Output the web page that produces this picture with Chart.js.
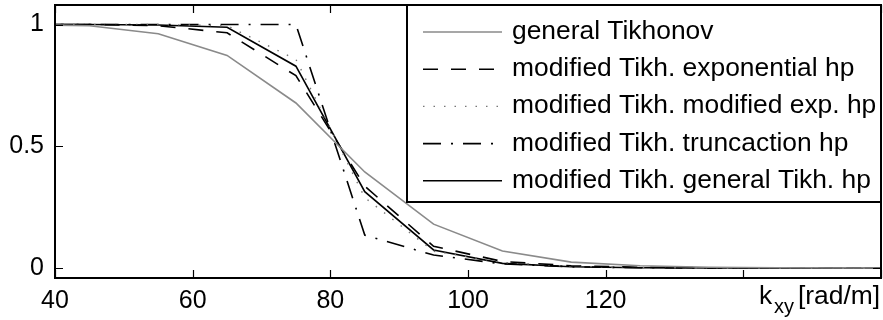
<!DOCTYPE html>
<html>
<head>
<meta charset="utf-8">
<script src="https://cdn.jsdelivr.net/npm/chart.js@4/dist/chart.umd.min.js"></script>
<style>
html,body{margin:0;padding:0;background:#fff;}
#wrap{width:883px;height:320px;position:relative;}
</style>
</head>
<body>
<div id="wrap"><canvas id="c" width="883" height="320"></canvas></div>
<script>
// ---- data ----
const kxy = [35, 45, 55, 65, 75, 85, 95, 105, 115, 125, 135, 145, 155, 165];
const generalTikhonov = [1.0, 0.995, 0.962, 0.873, 0.678, 0.395, 0.181, 0.071, 0.025, 0.010, 0.004, 0.002, 0.001, 0.001];
const modExponential = [1.0, 1.0, 0.995, 0.966, 0.790, 0.337, 0.090, 0.028, 0.010, 0.004, 0.002, 0.001, 0.001, 0.001];
const modModifiedExp = [1.0, 1.0, 1.0, 0.995, 0.857, 0.290, 0.070, 0.024, 0.008, 0.003, 0.001, 0.001, 0.0, 0.0];
const modTruncation = [1.0, 1.0, 1.0, 1.0, 1.0, 0.136, 0.054, 0.018, 0.006, 0.002, 0.001, 0.0, 0.0, 0.0];
const modGeneralTikh = [1.0, 1.0, 0.998, 0.989, 0.829, 0.314, 0.075, 0.020, 0.006, 0.002, 0.001, 0.0, 0.0, 0.0];
const seriesLabels = ['general Tikhonov', 'modified Tikh. exponential hp', 'modified Tikh. modified exp. hp', 'modified Tikh. truncaction hp', 'modified Tikh. general Tikh. hp'];
const xTickValues = [40, 60, 80, 100, 120, 140, 160];
const xTickLabels = ['40', '60', '80', '100', '120', '', ''];
const yTickValues = [0, 0.5, 1];
const yTickLabels = ['0', '0.5', '1'];

const FONT = '"Liberation Sans", Arial, Helvetica, sans-serif';
const pts = arr => arr.map((v, i) => ({x: kxy[i], y: v}));

const styles = [
  {color: '#8a8a8a', width: 1.6, dash: []},
  {color: '#000000', width: 1.6, dash: [15, 13]},
  {color: '#777777', width: 1.4, dash: [1.5, 9]},
  {color: '#000000', width: 1.6, dash: [18, 10, 2, 10]},
  {color: '#000000', width: 1.6, dash: []}
];
const seriesData = [generalTikhonov, modExponential, modModifiedExp, modTruncation, modGeneralTikh];

const datasets = seriesData.map((d, i) => ({
  label: seriesLabels[i],
  data: pts(d),
  borderColor: styles[i].color,
  borderWidth: styles[i].width,
  borderDash: styles[i].dash,
  pointRadius: 0,
  tension: 0,
  fill: false,
  clip: 0
}));

const decor = {
  id: 'decor',
  afterDatasetsDraw(chart) {
    const ctx = chart.ctx;
    const a = chart.chartArea;
    const xs = chart.scales.x, ys = chart.scales.y;
    ctx.save();
    ctx.strokeStyle = '#000';
    ctx.lineWidth = 1.2;
    ctx.setLineDash([]);
    xTickValues.forEach(v => {
      const p = Math.round(xs.getPixelForValue(v)) + 0.5;
      ctx.beginPath();
      ctx.moveTo(p, a.bottom); ctx.lineTo(p, a.bottom - 8);
      ctx.moveTo(p, a.top); ctx.lineTo(p, a.top + 8);
      ctx.stroke();
    });
    yTickValues.forEach(v => {
      const p = Math.round(ys.getPixelForValue(v)) + 0.5;
      ctx.beginPath();
      ctx.moveTo(a.left, p); ctx.lineTo(a.left + 8, p);
      ctx.moveTo(a.right, p); ctx.lineTo(a.right - 8, p);
      ctx.stroke();
    });
    ctx.lineWidth = 2;
    ctx.strokeRect(a.left, a.top, a.right - a.left, a.bottom - a.top);

    // legend
    const lx = 407, ly = a.top, lw = a.right - 407, lh = 197;
    ctx.fillStyle = '#fff';
    ctx.fillRect(lx, ly, lw, lh);
    ctx.strokeStyle = '#000';
    ctx.lineWidth = 2;
    ctx.strokeRect(lx, ly, lw, lh);
    ctx.font = '26.4px ' + FONT;
    ctx.textBaseline = 'alphabetic';
    ctx.textAlign = 'left';
    chart.data.datasets.forEach((ds, i) => {
      const ry = ly + 27 + i * 37.2;
      ctx.save();
      ctx.strokeStyle = ds.borderColor;
      ctx.lineWidth = ds.borderWidth;
      ctx.setLineDash(ds.borderDash);
      ctx.beginPath();
      ctx.moveTo(423, ry); ctx.lineTo(502, ry);
      ctx.stroke();
      ctx.restore();
      ctx.fillStyle = '#000';
      ctx.fillText(ds.label, 512, ry + 7);
    });

    // x axis label k_xy [rad/m]
    ctx.fillStyle = '#000';
    ctx.font = '26.4px ' + FONT;
    ctx.fillText('k', 759, 304);
    ctx.font = '20px ' + FONT;
    ctx.fillText('xy', 774, 313);
    ctx.font = '26.4px ' + FONT;
    ctx.fillText('[rad/m]', 798, 304);
    ctx.restore();
  }
};

new Chart(document.getElementById('c'), {
  type: 'line',
  data: {datasets},
  options: {
    responsive: false,
    animation: false,
    layout: {padding: {top: 5, right: 2, left: 0, bottom: 0}},
    plugins: {legend: {display: false}, tooltip: {enabled: false}},
    scales: {
      x: {
        type: 'linear', min: 40, max: 160,
        border: {display: false},
        grid: {display: false, drawTicks: false},
        afterBuildTicks: s => { s.ticks = xTickValues.map(v => ({value: v})); },
        afterFit: s => { s.height = 42; s.paddingLeft = 0; s.paddingRight = 0; },
        ticks: {
          color: '#000', padding: 8, maxRotation: 0, autoSkip: false,
          font: {family: FONT, size: 25},
          callback: (v) => { const i = xTickValues.indexOf(v); return i >= 0 ? xTickLabels[i] : ''; }
        }
      },
      y: {
        type: 'linear', min: -0.04, max: 1.08,
        border: {display: false},
        grid: {display: false, drawTicks: false},
        afterBuildTicks: s => { s.ticks = yTickValues.map(v => ({value: v})); },
        afterFit: s => { s.width = 55; s.paddingTop = 0; s.paddingBottom = 0; },
        ticks: {
          color: '#000', padding: 11,
          font: {family: FONT, size: 25},
          callback: (v) => { const i = yTickValues.indexOf(v); return i >= 0 ? yTickLabels[i] : ''; }
        }
      }
    }
  },
  plugins: [decor]
});
</script>
</body>
</html>
